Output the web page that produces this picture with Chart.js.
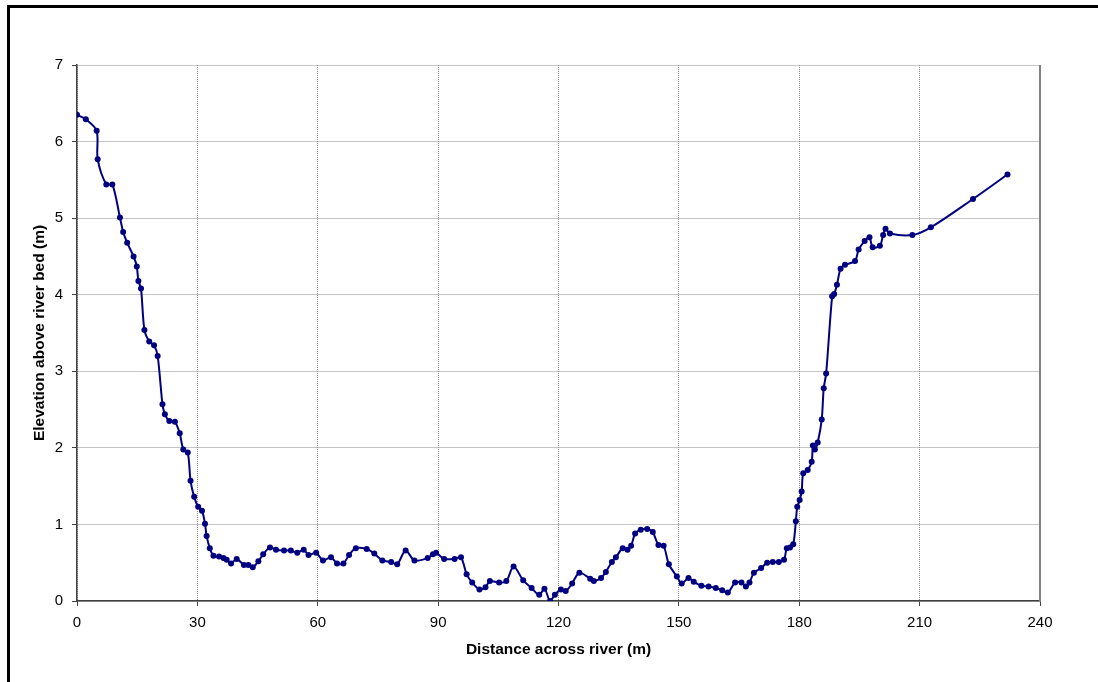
<!DOCTYPE html>
<html>
<head>
<meta charset="utf-8">
<script src="https://cdn.jsdelivr.net/npm/chart.js@4/dist/chart.umd.min.js"></script>
<style>
  html, body { margin: 0; padding: 0; background: #fff; overflow: hidden; }
  #wrap { position: relative; width: 1098px; height: 682px; }
  #frame { position: absolute; left: 7px; top: 5px; width: 2000px; height: 2000px;
           border-top: 3px solid #000; border-left: 3px solid #000; }
  canvas { position: absolute; left: 0; top: 0; }
</style>
</head>
<body>
<div id="wrap">
  <div id="frame"></div>
  <canvas id="profile" width="1098" height="682"></canvas>
</div>
<script>
// cross-section survey points
const distance = [0, 2.2, 4.9, 5.15, 7.3, 8.8, 10.7, 11.5, 12.5, 14.1,
  14.9, 15.3, 15.95, 16.8, 18.0, 19.2, 20.1, 21.3, 21.9, 23.0,
  24.4, 25.6, 26.5, 27.6, 28.3, 29.2, 30.2, 31.15, 31.9, 32.3,
  33.1, 34.0, 35.4, 36.5, 37.3, 38.4, 39.8, 41.6, 42.7, 43.8,
  45.2, 46.4, 48.1, 49.6, 51.6, 53.3, 54.9, 56.5, 57.7, 59.6,
  61.3, 63.3, 64.8, 66.4, 67.8, 69.5, 72.2, 74.1, 76.1, 78.3,
  79.8, 81.9, 84.1, 87.4, 88.7, 89.5, 91.5, 94.1, 95.7, 97.1,
  98.5, 100.3, 101.8, 102.9, 105.2, 107.0, 108.8, 111.2, 113.3, 115.2,
  116.5, 117.9, 119.1, 120.6, 121.8, 123.4, 125.2, 127.9, 128.8, 130.6,
  131.8, 133.3, 134.3, 136.0, 137.2, 138.1, 139.1, 140.5, 142.1, 143.5,
  144.9, 146.2, 147.5, 149.5, 150.7, 152.4, 153.7, 155.6, 157.4, 159.2,
  160.8, 162.2, 164.0, 165.6, 166.7, 167.6, 168.7, 170.5, 172.0, 173.4,
  174.9, 176.2, 176.9, 177.7, 178.5, 179.15, 179.5, 180.1, 180.6, 181.0,
  182.1, 183.1, 183.4, 183.9, 184.6, 185.6, 186.1, 186.7, 188.2, 188.7,
  189.4, 190.3, 191.4, 193.9, 194.8, 196.3, 197.5, 198.3, 200.1, 200.9,
  201.5, 202.6, 208.2, 212.8, 223.3, 231.9];

const elevation = [6.35, 6.29, 6.14, 5.77, 5.44, 5.44, 5.01, 4.82, 4.68, 4.50,
  4.37, 4.18, 4.08, 3.54, 3.39, 3.34, 3.20, 2.57, 2.44, 2.35,
  2.34, 2.19, 1.98, 1.94, 1.57, 1.36, 1.23, 1.18, 1.01, 0.85,
  0.69, 0.59, 0.58, 0.56, 0.54, 0.49, 0.55, 0.47, 0.47, 0.44,
  0.52, 0.61, 0.70, 0.67, 0.66, 0.66, 0.63, 0.67, 0.60, 0.63,
  0.53, 0.57, 0.49, 0.49, 0.60, 0.69, 0.68, 0.62, 0.53, 0.51,
  0.48, 0.66, 0.53, 0.56, 0.61, 0.63, 0.55, 0.55, 0.57, 0.35,
  0.24, 0.15, 0.18, 0.26, 0.24, 0.26, 0.45, 0.27, 0.17, 0.08,
  0.16, 0.00, 0.08, 0.15, 0.13, 0.23, 0.37, 0.29, 0.26, 0.30,
  0.38, 0.51, 0.57, 0.69, 0.67, 0.72, 0.88, 0.93, 0.94, 0.90,
  0.73, 0.72, 0.48, 0.32, 0.23, 0.30, 0.25, 0.20, 0.19, 0.17,
  0.14, 0.11, 0.24, 0.24, 0.19, 0.24, 0.37, 0.43, 0.50, 0.51,
  0.51, 0.54, 0.69, 0.70, 0.74, 1.04, 1.23, 1.32, 1.43, 1.67,
  1.71, 1.82, 2.03, 1.98, 2.07, 2.37, 2.78, 2.97, 3.98, 4.01,
  4.13, 4.34, 4.39, 4.44, 4.59, 4.70, 4.75, 4.62, 4.64, 4.78,
  4.86, 4.80, 4.78, 4.88, 5.25, 5.57];

const xTitle = 'Distance across river (m)';
const yTitle = 'Elevation above river bed (m)';

const points = distance.map((d, i) => ({ x: d, y: elevation[i] }));

const tickFont = { family: 'Liberation Sans, Arial, sans-serif', size: 15 };
const titleFont = { family: 'Liberation Sans, Arial, sans-serif', size: 15.5, weight: 'bold' };

// solid grey edge on the right of the plot area
const plotEdge = {
  id: 'plotEdge',
  afterDraw(chart) {
    const { ctx, chartArea: a } = chart;
    ctx.save();
    ctx.strokeStyle = '#808080';
    ctx.lineWidth = 2;
    ctx.beginPath();
    ctx.moveTo(a.right, a.top);
    ctx.lineTo(a.right, a.bottom);
    ctx.stroke();
    ctx.restore();
  }
};

new Chart(document.getElementById('profile'), {
  type: 'line',
  data: {
    datasets: [{
      data: points,
      borderColor: '#000080',
      backgroundColor: '#000080',
      borderWidth: 2,
      pointRadius: 3,
      pointBorderWidth: 0,
      tension: 0.3,
      fill: false
    }]
  },
  options: {
    responsive: false,
    animation: false,
    layout: { padding: { top: 65, right: 58, left: 0, bottom: 0 } },
    plugins: { legend: { display: false }, tooltip: { enabled: false } },
    scales: {
      x: {
        type: 'linear',
        min: 0, max: 240,
        ticks: { stepSize: 30, color: '#000', font: tickFont, padding: 8, maxRotation: 0 },
        grid: { color: '#8c8c8c', lineWidth: 1, tickLength: 5, tickColor: '#404040' },
        border: { color: '#404040', width: 1.5, dash: [1, 1] },
        title: { display: true, text: xTitle, color: '#000', font: titleFont, padding: { top: 0, bottom: 23 } },
        afterFit(scale) { scale.height = 81; }
      },
      y: {
        min: 0, max: 7,
        ticks: { stepSize: 1, color: '#000', font: tickFont, padding: 9 },
        grid: { color: '#8c8c8c', lineWidth: 1, tickLength: 5, tickColor: '#404040' },
        border: { color: '#404040', width: 1.5, dash: [1, 1] },
        title: { display: true, text: yTitle, color: '#000', font: titleFont, padding: { top: 30, bottom: 0 } },
        afterFit(scale) { scale.width = 77; }
      }
    }
  },
  plugins: [plotEdge]
});
</script>
</body>
</html>
